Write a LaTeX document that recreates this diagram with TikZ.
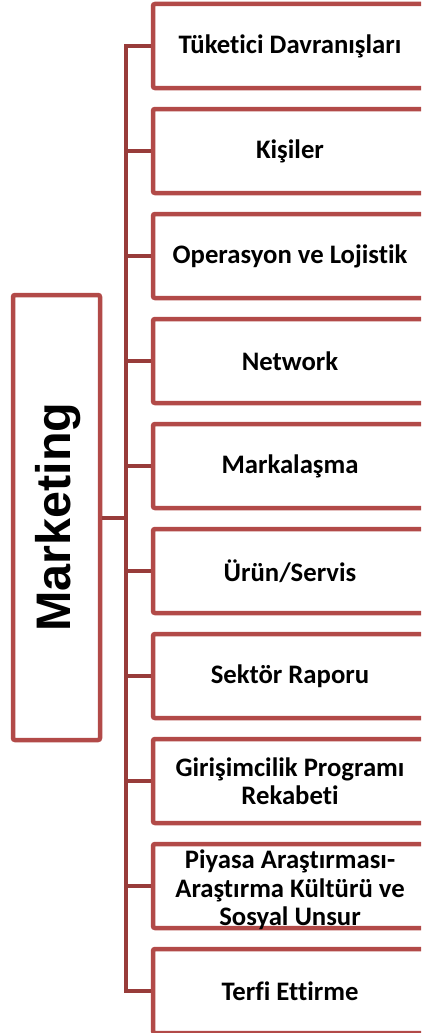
\documentclass[tikz,border=0pt]{standalone}
\usepackage{fontspec}
\setmainfont{Carlito}[Ligatures={NoCommon}]
\newfontfamily\mainlabelfont{Liberation Sans}
\usetikzlibrary{positioning}
\definecolor{boxred}{RGB}{178,74,72}
\definecolor{linkred}{RGB}{152,60,58}

\begin{document}
\begin{tikzpicture}[x=1pt,y=-1pt]
        \tikzstyle{every topic} = []
        \tikzstyle{topic} = [draw=boxred, line width=4.5pt, rounded corners=2pt, fill=white,
            minimum width=274pt, minimum height=84pt, inner sep=0pt, align=center,
            font=\fontsize{26.7}{28.5}\selectfont\bfseries, every topic]
        \tikzstyle{link} = [draw=linkred, line width=4pt]

        \useasboundingbox (0,0) rectangle (421,1033);
        \clip (0,0) rectangle (421,1033);

        \node[draw=boxred, line width=4.5pt, rounded corners=2pt, minimum width=87pt,
            minimum height=445pt, inner sep=0pt] (marketing) at (56.5,517.5) {};
        \node[rotate=90, font=\mainlabelfont\fontsize{48.5}{50}\selectfont\bfseries] (marketingtext) at (58,517) {Marketing};

        \coordinate (trunk) at (126,517.5);
        \draw[link] (marketing.east) -- (trunk);

        \node[topic] (tuketici) at (290,46) {T\"uketici Davran\i\c{s}lar\i};
        \node[topic] (kisiler) at (290,151) {Ki\c{s}iler};
        \node[topic] (operasyon) at (290,256) {Operasyon ve Lojistik};
        \node[topic] (network) at (290,361) {Network};
        \node[topic] (markalasma) at (290,466) {Markala\c{s}ma};
        \node[topic] (urun) at (290,571) {\"Ur\"un/Servis};
        \node[topic] (sektor) at (290,676) {Sekt\"or Raporu};
        \node[topic] (girisim) at (290,781) {Giri\c{s}imcilik Program\i\\Rekabeti};
        \node[topic] (piyasa) at (290,886) {};
        \node[topic] (terfi) at (290,991) {Terfi Ettirme};

        \draw[link] (tuketici.west) -| (trunk);
        \draw[link] (kisiler.west) -| (trunk);
        \draw[link] (operasyon.west) -| (trunk);
        \draw[link] (network.west) -| (trunk);
        \draw[link] (markalasma.west) -| (trunk);
        \draw[link] (urun.west) -| (trunk);
        \draw[link] (sektor.west) -| (trunk);
        \draw[link] (girisim.west) -| (trunk);
        \draw[link] (piyasa.west) -| (trunk);
        \draw[link] (terfi.west) -| (trunk);

        % text runs over the lower edge of its box
        \node[align=center, font=\fontsize{26.7}{28.5}\selectfont\bfseries] (piyasatext) at (290,890)
            {Piyasa Ara\c{s}t\i rmas\i-\\Ara\c{s}t\i rma K\"ult\"ur\"u ve\\Sosyal Unsur};
\end{tikzpicture}
\end{document}
